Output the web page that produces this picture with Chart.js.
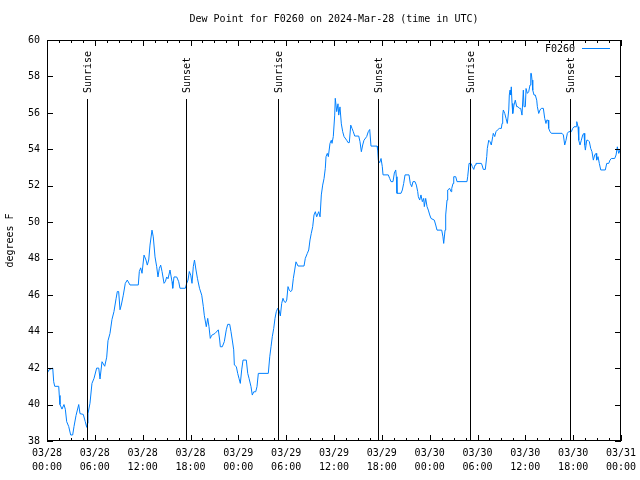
<!DOCTYPE html>
<html>
<head>
<meta charset="utf-8">
<script src="https://cdn.jsdelivr.net/npm/chart.js@4.4.1/dist/chart.umd.min.js"></script>
<style>
html,body{margin:0;padding:0;background:#fff;}
#wrap{width:640px;height:480px;position:relative;}
</style>
</head>
<body>
<div id="wrap"><canvas id="c" width="640" height="480"></canvas></div>
<script>
const titleText = "Dew Point for F0260 on 2024-Mar-28 (time in UTC)";
const yTitle = "degrees F";
const seriesName = "F0260";
const tickLabels = [
  ["03/28","00:00"],["03/28","06:00"],["03/28","12:00"],["03/28","18:00"],
  ["03/29","00:00"],["03/29","06:00"],["03/29","12:00"],["03/29","18:00"],
  ["03/30","00:00"],["03/30","06:00"],["03/30","12:00"],["03/30","18:00"],
  ["03/31","00:00"]
];
// hours since 03/28 00:00 UTC
const sunEventHours = [5.02, 17.44, 28.98, 41.52, 53.06, 65.6];
const sunEventNames = ["Sunrise","Sunset","Sunrise","Sunset","Sunrise","Sunset"];
const hours = [
0,0.25,0.72,0.84,0.97,1.47,1.54,1.63,1.88,2.13,
2.30,2.47,2.72,2.97,3.22,3.39,3.64,3.98,4.14,4.55,
4.80,4.98,5.06,5.14,5.39,5.64,5.90,6.23,6.49,6.65,
6.90,7.24,7.49,7.65,7.90,8.15,8.40,8.66,8.82,8.99,
9.16,9.32,9.57,9.82,10.07,10.41,11.45,11.58,11.75,11.92,
12.17,12.42,12.58,12.76,12.92,13.17,13.33,13.55,13.76,13.92,
14.09,14.26,14.43,14.68,14.84,15.02,15.18,15.43,15.68,15.77,
15.93,16.27,16.52,16.68,17.35,17.52,17.69,17.85,18.03,18.19,
18.35,18.50,18.69,18.88,19.13,19.41,19.61,19.73,19.98,20.16,
20.32,20.48,20.66,21.07,21.49,21.66,21.74,21.99,22.24,22.49,
22.67,22.92,23.08,23.24,23.42,23.50,23.75,23.92,24.08,24.25,
24.42,24.59,25.00,25.18,25.34,25.59,25.75,25.93,26.18,26.34,
26.51,27.76,27.94,28.10,28.26,28.44,28.60,28.76,28.94,29.10,
29.27,29.44,29.60,29.77,29.92,30.07,30.23,30.39,30.57,30.73,
30.90,31.07,31.23,31.49,32.24,32.40,32.65,32.83,32.99,33.15,
33.33,33.49,33.66,33.83,34.08,34.25,34.41,34.58,34.75,34.91,
35.00,35.16,35.29,35.50,35.66,35.75,35.91,36.09,36.16,36.34,
36.50,36.59,36.75,36.92,37.09,37.26,37.59,37.76,37.92,38.10,
38.26,38.42,38.60,39.10,39.26,39.43,39.60,39.76,40.10,40.30,
40.48,40.64,41.40,41.48,41.56,41.73,41.90,42.06,42.15,42.81,
42.99,43.15,43.40,43.57,43.74,43.82,43.90,44.41,44.57,44.74,
44.91,45.41,45.57,45.75,45.91,46.16,46.33,46.50,46.58,46.75,
46.91,47.08,47.25,47.33,47.50,47.67,47.83,48.01,48.17,48.58,
48.76,48.92,49.51,49.67,49.76,49.93,50.01,50.18,50.26,50.51,
50.68,50.77,50.93,51.02,51.27,51.43,52.68,52.77,52.94,53.19,
53.35,53.53,53.69,53.81,54.48,54.57,54.73,54.98,55.16,55.23,
55.41,55.57,55.73,55.91,55.98,56.16,56.32,56.49,56.74,56.99,
57.08,57.16,57.24,57.42,57.58,57.74,57.92,57.99,58.08,58.17,
58.24,58.33,58.42,58.58,58.74,58.92,59.08,59.25,59.42,59.58,
59.75,59.84,60.00,60.09,60.25,60.42,60.59,60.68,60.75,60.84,
60.93,61.09,61.25,61.43,61.51,61.68,61.84,62.01,62.26,62.43,
62.59,62.68,62.85,62.93,63.10,63.26,64.60,64.77,64.94,65.10,
65.27,65.44,65.77,65.94,66.11,66.36,66.45,66.61,66.70,66.86,
67.02,67.20,67.36,67.45,67.53,67.70,67.86,68.03,68.20,68.36,
68.53,68.70,68.87,68.95,69.12,69.28,69.46,70.03,70.21,70.46,
70.62,70.79,71.21,71.38,71.54,71.71,71.88,72.00
];
const dewPoint = [
41.7,41.9,42.0,41.25,41.0,41.0,40.5,40.0,39.75,40.0,
39.74,39.06,38.8,38.33,38.33,38.8,39.4,40.0,39.5,39.46,
39.06,38.75,38.97,39.5,40.07,41.16,41.44,42.0,42.0,41.4,
42.35,42.1,42.6,43.5,43.9,44.67,45.1,45.8,46.2,46.2,
45.2,45.46,46.0,46.65,46.83,46.56,46.56,47.3,47.5,47.2,
48.2,47.93,47.65,47.93,48.75,49.57,49.2,48.1,47.56,47.0,
47.47,47.65,47.3,46.65,46.74,47.0,46.9,47.38,46.74,46.38,
47.0,47.0,46.74,46.38,46.38,46.65,46.83,47.3,47.1,46.65,
47.56,47.93,47.38,46.9,46.38,46.0,45.37,44.9,44.27,44.73,
44.27,43.63,43.8,43.9,44.1,43.54,43.17,43.17,43.45,44.1,
44.4,44.4,44.0,43.54,43.0,42.17,42.08,41.71,41.44,41.16,
41.9,42.44,42.44,41.71,41.44,40.98,40.52,40.7,40.7,40.98,
41.71,41.71,42.62,43.17,43.72,44.18,44.73,45.09,45.28,45.19,
44.86,45.55,45.83,45.64,45.6,45.73,46.47,46.28,46.19,46.28,
46.92,47.38,47.83,47.6,47.6,48.02,48.29,48.48,49.03,49.39,
49.76,50.4,50.58,50.3,50.58,50.3,51.5,52.04,52.4,52.96,
53.6,53.78,53.6,54.33,54.5,54.33,54.7,55.88,56.8,56.07,
56.5,55.88,56.33,55.4,54.97,54.7,54.5,54.37,54.37,55.33,
55.15,54.97,54.73,54.73,54.42,53.87,54.24,54.5,54.7,54.97,
55.09,54.18,54.18,53.95,53.4,53.27,53.5,53.05,52.6,52.6,
52.4,52.23,52.23,52.7,52.87,52.5,51.59,51.59,51.77,52.13,
52.6,52.6,52.13,51.95,52.23,52.23,52.04,51.68,51.4,51.22,
51.5,51.13,51.31,50.86,51.31,50.86,50.67,50.4,50.21,50.12,
49.85,49.57,49.57,49.2,48.84,49.57,50.4,51.22,51.77,51.86,
51.68,51.86,52.13,52.5,52.5,52.23,52.23,52.5,53.23,53.23,
53.05,52.9,53.14,53.23,53.23,53.14,52.9,52.9,53.6,54.05,
54.5,54.42,54.24,54.7,54.88,54.7,54.97,55.06,55.15,55.15,
55.42,55.88,56.16,55.97,55.7,55.42,56.16,56.98,57.25,56.98,
57.43,56.52,55.97,56.43,56.7,56.34,56.34,56.25,56.25,55.88,
57.25,56.34,56.34,57.34,57.07,57.16,57.53,58.17,58.17,57.8,
57.25,56.98,56.98,56.7,56.34,55.97,56.16,56.25,56.25,55.7,
55.42,55.6,55.6,55.15,54.97,54.88,54.88,54.79,54.24,54.5,
54.88,54.97,54.97,55.15,55.24,55.24,55.52,55.24,54.5,54.24,
54.5,54.79,54.88,54.24,53.96,54.5,54.5,54.42,54.05,53.87,
53.41,53.69,53.78,53.41,53.6,53.23,52.87,52.87,53.23,53.23,
53.41,53.5,53.5,53.69,54.14,53.78,53.96,53.5
];

const FONT = "'DejaVu Sans Mono', monospace";
const LINE_COLOR = "rgb(0,128,255)";

const frame = {
  id: 'frame',
  afterDraw(chart) {
    const ctx = chart.ctx;
    const a = chart.chartArea;
    const xs = chart.scales.x, ys = chart.scales.y;
    ctx.save();
    ctx.strokeStyle = '#000';
    ctx.lineWidth = 1;
    // border
    ctx.strokeRect(Math.round(a.left) + 0.5, Math.round(a.top) + 0.5,
                   Math.round(a.right - a.left) - 1, Math.round(a.bottom - a.top) - 1);
    ctx.beginPath();
    // y ticks both sides
    for (let v = 38; v <= 60; v += 2) {
      const y = Math.round(ys.getPixelForValue(v)) + 0.5;
      ctx.moveTo(a.left, y); ctx.lineTo(a.left + 6, y);
      ctx.moveTo(a.right, y); ctx.lineTo(a.right - 6, y);
    }
    // x ticks (major every 6h, minor every 1.5h)
    for (let h = 0; h <= 72; h += 1.5) {
      const x = Math.round(xs.getPixelForValue(h)) + 0.5;
      const len = (h % 6 === 0) ? 6 : 3;
      ctx.moveTo(x, a.bottom); ctx.lineTo(x, a.bottom - len);
      ctx.moveTo(x, a.top); ctx.lineTo(x, a.top + len);
    }
    ctx.stroke();
    // sunrise / sunset lines
    ctx.font = '10px ' + FONT;
    ctx.fillStyle = '#000';
    sunEventHours.forEach((h, i) => {
      const x = Math.round(xs.getPixelForValue(h)) + 0.5;
      ctx.beginPath();
      ctx.moveTo(x, 99); ctx.lineTo(x, a.bottom);
      ctx.stroke();
      ctx.save();
      ctx.translate(x + 1, 93);
      ctx.rotate(-Math.PI / 2);
      ctx.textAlign = 'left';
      ctx.textBaseline = 'middle';
      ctx.fillText(sunEventNames[i], 0, 0);
      ctx.restore();
    });
    // title
    ctx.textAlign = 'center';
    ctx.textBaseline = 'middle';
    ctx.fillText(titleText, (a.left + a.right) / 2, 19);
    // y title
    ctx.save();
    ctx.translate(10, (a.top + a.bottom) / 2);
    ctx.rotate(-Math.PI / 2);
    ctx.fillText(yTitle, 0, 0);
    ctx.restore();
    // legend
    ctx.textAlign = 'right';
    ctx.fillText(seriesName, 575, 49);
    ctx.strokeStyle = LINE_COLOR;
    ctx.beginPath();
    ctx.moveTo(582, 48.5); ctx.lineTo(610, 48.5);
    ctx.stroke();
    ctx.restore();
  }
};

new Chart(document.getElementById('c'), {
  type: 'line',
  data: {
    datasets: [{
      label: seriesName,
      data: hours.map((h, i) => ({ x: h, y: dewPoint[i] })),
      borderColor: LINE_COLOR,
      borderWidth: 1,
      pointRadius: 0,
      tension: 0,
      fill: false
    }]
  },
  options: {
    responsive: false,
    devicePixelRatio: 1,
    animation: false,
    layout: { padding: { top: 40, right: 19, left: 0, bottom: 0 } },
    plugins: { legend: { display: false }, tooltip: { enabled: false }, title: { display: false } },
    scales: {
      x: {
        type: 'linear', min: 0, max: 72,
        grid: { display: false, drawTicks: false },
        border: { display: false },
        afterFit: s => { s.height = 39; s.paddingRight = 0; },
        afterBuildTicks: s => { s.ticks = tickLabels.map((_, i) => ({ value: i * 6 })); },
        ticks: {
          autoSkip: false, maxRotation: 0, minRotation: 0, padding: 6,
          color: '#000', font: { family: FONT, size: 10, lineHeight: 1.35 },
          callback: (v, i) => tickLabels[i]
        }
      },
      y: {
        min: 38, max: 60,
        grid: { display: false, drawTicks: false },
        border: { display: false },
        afterFit: s => { s.width = 47; },
        ticks: {
          stepSize: 2, padding: 7, color: '#000',
          font: { family: FONT, size: 10 }
        }
      }
    }
  },
  plugins: [frame]
});
</script>
</body>
</html>
